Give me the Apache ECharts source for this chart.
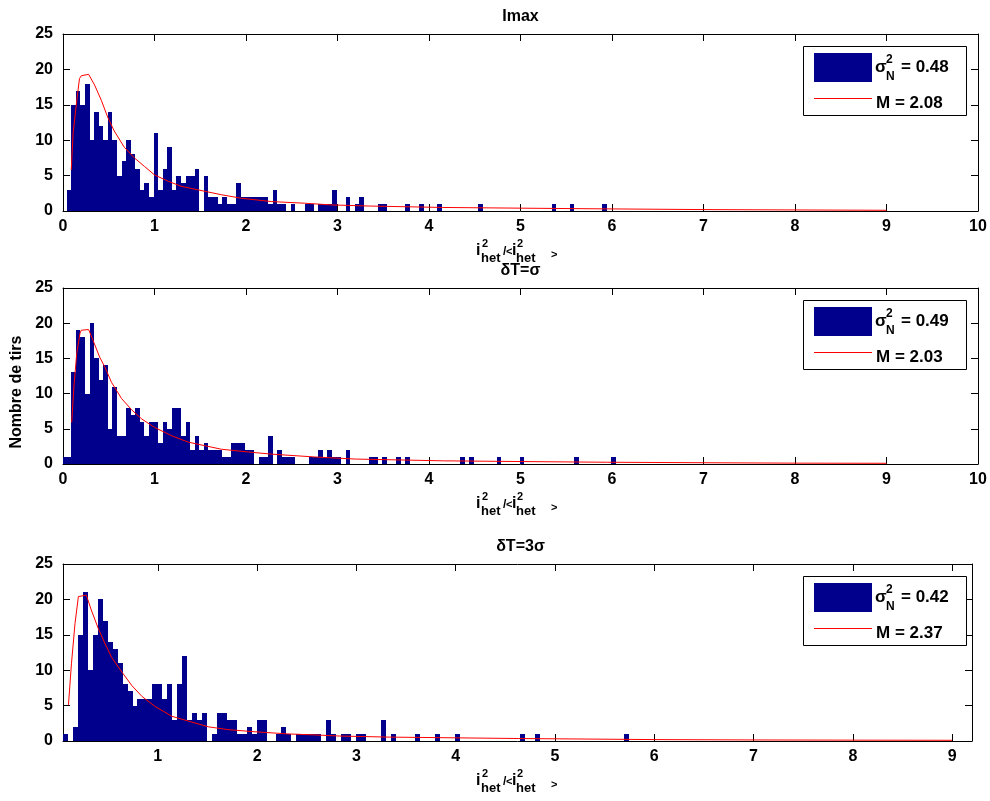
<!DOCTYPE html>
<html>
<head>
<meta charset="utf-8">
<script src="https://cdn.jsdelivr.net/npm/echarts@6/dist/echarts.min.js"></script>
<style>html,body{margin:0;padding:0;background:#fff}#c{width:990px;height:801px}</style>
</head>
<body>
<div id="c"></div>
<script>
// ---------------- data ----------------
const titles = ['Imax', 'δT=σ', 'δT=3σ'];
const yLabel = 'Nombre de tirs';
const binWidth = 0.05;

const binStart1 = 0.04;
const counts1 = [3,15,17,15,18,10,14,12,10,14, 10,5,7,10,8,6,3,4,2,11, 3,6,9,3,5,4,5,5,6,0,
  5,2,2,1,2,1,1,4,2,2, 2,2,2,2,1,3,1,1,0,1, 0,0,1,1,0,1,1,1,3,0, 0,2,0,1,2,0,0,0,1,1,
  0,0,0,0,1,0,0,1,0,0, 0,1,0,0,0,0,0,0,0,0, 1,0,0,0,0,0,0,0,0,0, 0,0,0,0,0,0,1,0,0,0,
  1,0,0,0,0,0,0,1];

const binStart2 = -0.01;
const counts2 = [1,1,13,19,18,10,20,15,12,14, 5,11,4,4,8,7,8,6,4,6, 6,3,6,5,8,8,4,6,2,4,
  2,3,2,2,2,1,1,3,3,3, 2,2,0,1,1,4,0,2,1,1, 1,0,0,0,1,1,2,1,2,1, 1,0,2,0,0,0,0,1,1,0,
  1,0,0,1,0,1,0,0,0,0, 0,0,0,0,0,0,0,1,0,1, 0,0,0,0,0,1,0,0,0,0, 1,0,0,0,0,0,0,0,0,0,
  0,0,1,0,0,0,0,0,0,0, 1];

const binStart3 = 0.045;
const counts3 = [1,0,2,15,21,10,15,20,17,14, 13,11,8,7,5,6,6,6,8,8, 6,8,3,8,12,3,4,3,4,0,
  1,4,4,3,3,1,1,2,1,3, 3,0,0,1,2,1,0,1,1,1, 1,1,0,3,1,0,1,1,0,1, 1,0,0,0,3,0,1,0,0,0,
  0,1,0,0,0,1,0,0,0,1, 0,0,0,0,0,0,0,0,0,0, 0,0,1,0,0,1,0,0,0,0, 0,0,0,0,0,0,0,0,0,0,
  0,0,0,1];

const curveX1 = [0.09,0.11,0.145,0.18,0.2,0.28,0.345,0.42,0.49,0.56,0.67,0.78,0.89,1.0,1.15,1.29,1.47,1.73,1.95,2.28,2.64,2.93,3.35,4.15,5.0,5.94,7.0,8.0,9.0];
const curveY1 = [5.8,10.9,15.0,18.7,19.1,19.3,17.8,15.6,13.2,11.3,9.0,7.5,6.3,5.1,4.2,3.5,3.0,2.3,1.8,1.33,1.1,0.86,0.7,0.5,0.4,0.3,0.2,0.15,0.1];
const curveX2 = [0.095,0.12,0.15,0.186,0.2,0.28,0.33,0.40,0.46,0.53,0.64,0.75,0.86,1.0,1.19,1.37,1.55,1.73,2.03,2.28,2.75,3.2,4.16,5.0,5.94,7.0,8.0,9.0];
const curveY2 = [5.9,11.1,15.7,18.6,19.0,19.1,17.5,15.2,13.7,11.6,9.3,7.7,6.4,5.2,4.0,3.1,2.6,2.1,1.7,1.4,1.0,0.7,0.45,0.35,0.25,0.18,0.12,0.1];
const curveX3 = [0.10,0.13,0.166,0.2,0.28,0.33,0.40,0.47,0.535,0.64,0.74,0.84,0.97,1.14,1.31,1.51,1.71,1.98,2.31,2.58,2.83,3.33,4.63,6.0,7.0,8.0,9.0];
const curveY3 = [5.1,10.9,16.6,20.4,20.6,18.5,15.9,13.7,11.8,9.7,7.8,6.3,4.9,3.5,2.8,2.0,1.6,1.3,1.0,0.86,0.7,0.55,0.35,0.2,0.15,0.12,0.1];

const sigmaValues = ['0.48', '0.49', '0.42'];
const mValues = ['2.08', '2.03', '2.37'];
const xTicks12 = [0,1,2,3,4,5,6,7,8,9,10];
const xTicks3 = [1,2,3,4,5,6,7,8,9];
const xRange12 = [0, 10];
const xRange3 = [0.045, 9.2];
const yRange = [0, 25];
const yStep = 5;

// ---------------- layout / style ----------------
const FONT = '"Liberation Sans", Arial, Helvetica, sans-serif';
const BAR = '#00008c';
const layout = [
  {top: 34, height: 177, width: 915},
  {top: 288, height: 176, width: 915},
  {top: 564, height: 177, width: 909}
];
const GL = 63;

const panels = [
  {start: binStart1, counts: counts1, cx: curveX1, cy: curveY1, xr: xRange12, xt: xTicks12},
  {start: binStart2, counts: counts2, cx: curveX2, cy: curveY2, xr: xRange12, xt: xTicks12},
  {start: binStart3, counts: counts3, cx: curveX3, cy: curveY3, xr: xRange3, xt: xTicks3}
];

const grid = [], xAxis = [], yAxis = [], series = [], graphic = [];
const lineCol = '#000';

const t = (txt, x, y, size) => ({type: 'text', x: x, y: y, z: 50,
  style: {text: txt, font: 'bold ' + size + 'px ' + FONT, fill: '#000', align: 'left', verticalAlign: 'middle', textAlign: 'left', textVerticalAlign: 'middle'}});

panels.forEach((p, i) => {
  const L = layout[i];
  grid.push({left: GL, width: L.width, top: L.top, height: L.height, containLabel: false});
  const xb = {
    gridIndex: i, type: 'value', min: p.xr[0], max: p.xr[1], splitLine: {show: false},
    axisLine: {show: true, onZero: false, lineStyle: {color: lineCol, width: 1}},
    axisTick: {show: true, inside: true, length: 7, customValues: p.xt, lineStyle: {color: lineCol}}
  };
  xAxis.push(Object.assign({}, xb, {position: 'bottom',
    axisLabel: {show: true, customValues: p.xt, color: '#000', fontSize: 16, fontWeight: 'bold', fontFamily: FONT, margin: 8, showMinLabel: true, showMaxLabel: true}}));
  xAxis.push(Object.assign({}, xb, {position: 'top', axisLabel: {show: false}}));
  const yb = {
    gridIndex: i, type: 'value', min: yRange[0], max: yRange[1], interval: yStep, splitLine: {show: false},
    axisLine: {show: true, onZero: false, lineStyle: {color: lineCol, width: 1}},
    axisTick: {show: true, inside: true, length: 7, lineStyle: {color: lineCol}}
  };
  yAxis.push(Object.assign({}, yb, {position: 'left',
    axisLabel: {show: true, color: '#000', fontSize: 16, fontWeight: 'bold', fontFamily: FONT, margin: 10, showMinLabel: true, showMaxLabel: true}}));
  yAxis.push(Object.assign({}, yb, {position: 'right', axisLabel: {show: false}}));

  const data = [];
  p.counts.forEach((c, k) => { if (c > 0) data.push([p.start + k * binWidth, p.start + (k + 1) * binWidth, c]); });
  series.push({
    type: 'custom', xAxisIndex: 2 * i, yAxisIndex: 2 * i, data: data, encode: {x: [0, 1], y: 2}, silent: true,
    renderItem: function (params, api) {
      const a = api.coord([api.value(0), 0]);
      const b = api.coord([api.value(1), api.value(2)]);
      const x0 = Math.round(a[0]), x1 = Math.round(b[0]);
      const y0 = Math.round(a[1]), y1 = Math.round(b[1]);
      const cs = params.coordSys;
      const r = echarts.graphic.clipRectByRect(
        {x: x0, y: y1, width: x1 - x0, height: y0 - y1},
        {x: cs.x, y: cs.y, width: cs.width, height: cs.height});
      if (!r) return null;
      return {type: 'rect', shape: r, style: {fill: BAR}};
    }
  });
  series.push({
    type: 'line', xAxisIndex: 2 * i, yAxisIndex: 2 * i, data: p.cx.map((x, j) => [x, p.cy[j]]),
    showSymbol: false, symbol: 'none', smooth: false, silent: true, z: 5,
    lineStyle: {color: '#ff0000', width: 1}
  });

  // title
  graphic.push({type: 'text', x: 520.5, y: L.top - 17, z: 50,
    style: {text: titles[i], font: 'bold 16px ' + FONT, fill: '#000', align: 'center', verticalAlign: 'middle', textAlign: 'center', textVerticalAlign: 'middle'}});

  // x axis name: i^2_het/<i^2_het>
  const bx = 476, by = L.top + L.height + 40;
  graphic.push(t('i', bx, by, 16));
  graphic.push(t('2', bx + 6, by - 7, 11));
  graphic.push(t('het', bx + 5, by + 7, 13));
  graphic.push(t('/', bx + 27, by + 1, 12));
  graphic.push(t('<', bx + 30, by + 1, 11));
  graphic.push(t('i', bx + 36, by, 16));
  graphic.push(t('2', bx + 41, by - 7, 11));
  graphic.push(t('het', bx + 40, by + 7, 13));
  graphic.push(t('>', bx + 75, by + 4, 11));

  // legend
  const lx = 803, ly = L.top + 12;
  graphic.push({type: 'rect', z: 40, shape: {x: lx + 0.5, y: ly + 0.5, width: 163, height: 69},
    style: {fill: '#fff', stroke: '#000', lineWidth: 1}});
  graphic.push({type: 'rect', z: 41, shape: {x: lx + 11, y: ly + 7, width: 58, height: 29}, style: {fill: BAR}});
  graphic.push({type: 'line', z: 41, shape: {x1: lx + 11, y1: ly + 52.5, x2: lx + 69, y2: ly + 52.5},
    style: {stroke: '#ff0000', lineWidth: 1}});
  graphic.push(t('σ', lx + 72, ly + 21, 17));
  graphic.push(t('2', lx + 83, ly + 14, 12));
  graphic.push(t('N', lx + 83, ly + 31, 12));
  graphic.push(t('= ' + sigmaValues[i], lx + 98, ly + 21, 17));
  graphic.push(t('M = ' + mValues[i], lx + 73, ly + 57, 17));
});

// y axis label
graphic.push({type: 'text', x: 17, y: 392, rotation: Math.PI / 2, z: 50,
  style: {text: yLabel, font: 'bold 16px ' + FONT, fill: '#000', align: 'center', verticalAlign: 'middle', textAlign: 'center', textVerticalAlign: 'middle'}});

const chart = echarts.init(document.getElementById('c'), null, {renderer: 'canvas'});
chart.setOption({
  animation: false,
  backgroundColor: '#fff',
  grid: grid, xAxis: xAxis, yAxis: yAxis, series: series, graphic: {elements: graphic}
});
</script>
</body>
</html>
